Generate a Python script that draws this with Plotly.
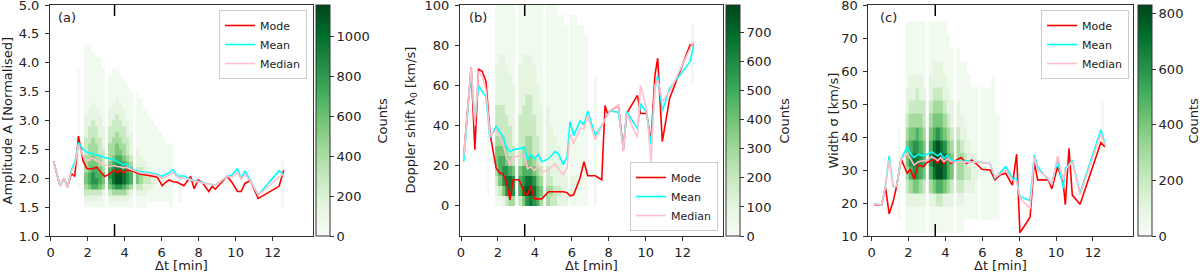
import plotly.graph_objects as go

# ---------------- line data ----------------
# Panel (a): amplitude
T_A = [0.15, 0.5, 0.72, 0.9, 1.12, 1.3, 1.5, 1.75, 1.95, 2.25, 2.48, 2.7, 2.92, 3.2, 3.42, 3.6,
       3.74, 3.92, 4.1, 4.35, 4.86, 5.3, 5.76, 6.03, 6.21, 6.4, 6.62, 6.84, 7.2, 7.56, 7.76, 7.97,
       8.19, 8.55, 8.73, 8.9, 9.53, 9.8, 10.1, 10.3, 10.5, 10.8, 11.22, 12.35, 12.6]
MODE_A = [2.30, 1.87, 2.0, 1.85, 2.08, 2.03, 2.73, 2.3, 2.17, 2.16, 2.19, 2.11, 2.03, 2.08, 2.14, 2.1,
          2.14, 2.09, 2.14, 2.13, 2.07, 2.05, 2.02, 1.87, 1.93, 1.97, 1.94, 1.93, 1.87, 2.03, 1.82, 1.97,
          1.93, 1.77, 1.86, 1.81, 2.03, 1.93, 1.77, 1.77, 1.91, 1.96, 1.65, 1.86, 2.14]
MEAN_A = [2.30, 1.87, 2.0, 1.85, 2.15, 2.28, 2.62, 2.5, 2.45, 2.43, 2.40, 2.39, 2.36, 2.33, 2.32, 2.28,
          2.27, 2.23, 2.25, 2.16, 2.11, 2.1, 2.07, 2.03, 2.07, 2.09, 2.15, 2.04, 2.04, 1.98, 1.96, 1.94,
          1.93, 1.9, 1.89, 1.88, 2.03, 2.05, 2.17, 1.99, 2.13, 1.96, 1.71, 2.13, 2.06]
MEDIAN_A = [2.30, 1.87, 2.0, 1.85, 2.12, 2.22, 2.58, 2.38, 2.3, 2.35, 2.3, 2.27, 2.25, 2.2, 2.22, 2.2,
            2.2, 2.18, 2.19, 2.15, 2.09, 2.08, 2.05, 2.0, 2.03, 2.05, 2.1, 2.02, 2.0, 1.98, 1.95, 1.93,
            1.92, 1.9, 1.89, 1.88, 2.03, 2.02, 2.1, 1.98, 2.07, 1.95, 1.71, 2.02, 2.07]

# Panel (b): Doppler shift
T_B = [0.15, 0.55, 0.75, 0.95, 1.15, 1.35, 1.57, 1.9, 2.08, 2.27, 2.47, 2.65, 2.83, 3.15, 3.45, 3.6,
       3.78, 3.97, 4.19, 4.37, 4.75, 5.09, 5.27, 5.54, 5.75, 5.9, 6.1, 6.45, 6.66, 6.86, 7.27, 7.62,
       7.8, 7.93, 8.07, 8.52, 8.79, 8.97, 9.55, 9.72, 10.05, 10.29, 10.5, 10.65, 10.9, 11.3, 12.4, 12.6]
MODE_B = [25, 69, 28, 68, 67, 62, 36, 19, 16.5, 16, 11.5, 3, 13, 13, 6, 5.5,
          10, 3.5, 3.5, 3.5, 7, 7, 7, 7, 6.5, 5, 5.5, 14, 22, 15, 15, 13,
          50, 46, 47, 50, 28, 46, 55, 46, 46, 32, 65, 73.5, 32, 53.6, 80, 80]
MEAN_B = [22, 68, 42, 60, 57, 54.5, 34, 39.5, 37, 34.5, 29, 27, 28, 28.7, 29, 23,
          25.5, 23.5, 25.5, 22, 23.5, 27, 26, 20.5, 24.5, 42, 35, 42.3, 40.3, 47.3, 35, 40,
          43.6, 45.5, 47.3, 46.6, 28.7, 47, 38.3, 51, 46.6, 30.7, 58, 65, 47.3, 58.5, 71.8, 80]
MEDIAN_B = [25, 69, 40, 67, 64.5, 58, 34.5, 38, 35, 31, 24, 20.5, 24, 25, 25, 18.5,
            19.5, 17.5, 20, 17, 18, 21, 18.5, 15.5, 19, 36, 31, 38.5, 38.5, 45, 33, 40,
            43, 45, 47, 50, 27, 46, 34, 60, 48, 22, 60, 63, 52, 57, 78, 82]

# Panel (c): width
T_C = [0.15, 0.55, 0.75, 0.95, 1.17, 1.35, 1.6, 1.93, 2.1, 2.3, 2.53, 2.8, 3.0, 3.25, 3.43, 3.58,
       3.74, 3.92, 4.12, 4.28, 4.6, 4.85, 5.15, 5.42, 5.7, 5.97, 6.42, 6.69, 6.96, 7.27, 7.63, 7.86,
       8.04, 8.59, 8.82, 9.0, 9.58, 9.77, 10.08, 10.39, 10.5, 10.7, 10.88, 11.3, 12.43, 12.65]
MODE_C = [19.5, 19.4, 24.8, 16.7, 20.5, 25, 33.3, 29, 30.2, 27.3, 31.5, 31, 32.3, 32.8, 33.3, 32,
          33.8, 31.8, 34, 32, 33, 33.8, 32, 33, 31.8, 30.2, 30, 27, 28.5, 29, 25.4, 34.8,
          11, 15.7, 32.5, 27, 27, 24.3, 31, 26, 19.5, 36.6, 22.4, 19.6, 38.3, 37]
MEAN_C = [19.7, 19.4, 25, 34.3, 25, 25, 33.3, 37, 35, 33.8, 34.8, 34.3, 34.8, 35.5, 34.8, 34.3,
          35, 33.5, 34.5, 33, 32.8, 32.5, 32.8, 32.5, 32.5, 32.3, 32, 27.5, 29, 31, 27.5, 27.4,
          22, 20.7, 34.6, 31, 27, 25.9, 33, 24.5, 30.5, 31.5, 33, 23, 42.2, 38]
MEDIAN_C = [19.7, 19.4, 25, 33, 25, 25, 33.3, 35, 33.5, 31.5, 32.5, 32.8, 33, 34, 33.5, 32.8,
            33.8, 32.5, 33.5, 32.5, 32.5, 32.5, 32.5, 32.5, 32.3, 32.3, 32, 27.8, 28.8, 30, 27, 26.5,
            21.5, 18.3, 34, 30, 27.5, 25.5, 34.3, 27, 30, 31.5, 32.5, 22.5, 41, 37.5]

# ---------------- 2-D histogram data ----------------
# Each column string lists colour levels 0-9 from the lowest y bin upwards.
LEVEL_FRAC = [0, 0.04, 0.12, 0.24, 0.36, 0.48, 0.6, 0.72, 0.84, 0.96]

ZMAX_A = 1160
Y_EDGES_A = [1.5, 1.6, 1.7, 1.8, 1.9, 2.0, 2.1, 2.2, 2.3, 2.4, 2.5, 2.6, 2.7, 2.8, 2.9, 3.0,
             3.1, 3.2, 3.3, 3.4, 3.5, 3.6, 3.7, 3.8, 3.9, 4.0, 4.1, 4.2, 4.3]
HIST_A = [
    ([1.45, 1.58], ["0001111111111111111111110000"]),
    ([1.8, 1.99, 2.18, 2.37, 2.56, 2.75, 2.95],
     ["1234554443332222111111111111",
      "1235665544433322211111111111",
      "1236776554443332221111111110",
      "1236766544433322211111111100",
      "1235665443332222111111111100",
      "1124554333222211111111110000"]),
    ([3.1, 3.29, 3.48, 3.67, 3.86, 4.05, 4.25, 4.45],
     ["1235676544433322211111100000",
      "1246887654443332221111110000",
      "1247998765544333222111110000",
      "1247998765443332221111100000",
      "1246887654433322211111000000",
      "1235776543332221111110000000",
      "1124665432222111111100000000"]),
    ([4.6, 4.8, 5.0, 5.2, 5.4, 5.6, 5.8, 6.0, 6.2, 6.4, 6.6],
     ["1123553222111111111100000000",
      "1123443221111111111000000000",
      "1122332211111111100000000000",
      "0112332111111111000000000000",
      "0112221111111110000000000000",
      "0111221111111100000000000000",
      "0111111111111000000000000000",
      "0111111111110000000000000000",
      "0111111111100000000000000000",
      "1111111111100000000000000000"]),
    ([6.9, 7.1], ["0111110000000000000000000000"]),
    ([12.45, 12.6], ["1111111100000000000000000000"]),
]

ZMAX_B = 795
Y_EDGES_B = [0, 5, 10, 15, 20, 25, 30, 35, 40, 45, 50, 55, 60, 65, 70, 75, 80, 85, 90, 95, 100]
HIST_B = [
    ([1.42, 1.55], ["01111111111111000000"]),
    ([1.85, 2.03, 2.21, 2.39, 2.57, 2.75, 2.95],
     ["12345543332222111111",
      "13566543332222211111",
      "25776543332222211111",
      "37875433322222111111",
      "48864333222221111111",
      "47753322222211111111"]),
    ([3.1, 3.29, 3.48, 3.67, 3.86, 4.05, 4.25, 4.45],
     ["36653333322222111111",
      "58764433332222211111",
      "79865443333222211111",
      "89865443333222211111",
      "78754333322222111111",
      "66543332222211111111",
      "45432222221111111111"]),
    ([4.6, 4.8, 5.0, 5.2, 5.4, 5.6, 5.8],
     ["44332222221111111111",
      "34322222111111111111",
      "33222221111111111111",
      "23222211111111111110",
      "22221111111111111110",
      "22211111111111111100"]),
    ([5.9, 6.1, 6.3, 6.5, 6.7, 6.9],
     ["12211111111111111110",
      "11211111111111111110",
      "11111111111111111100",
      "11111111111111111100",
      "11111111111111111000"]),
    ([7.2, 7.35], ["11111111111110000000"]),
    ([12.45, 12.6], ["00000000000011111100"]),
]

ZMAX_C = 830
Y_EDGES_C = [11, 15, 19, 23, 27, 31, 35, 39, 43, 47, 51, 55, 59, 63, 67, 71, 75]
HIST_C = [
    ([1.45, 1.57], ["0111111100000000"]),
    ([1.85, 2.03, 2.21, 2.39, 2.57, 2.75, 2.95],
     ["1123455432211111",
      "1124676543221111",
      "1125787543221111",
      "1125787643321111",
      "1124676543221111",
      "1123565433211111"]),
    ([3.1, 3.29, 3.48, 3.67, 3.86, 4.05, 4.25, 4.45],
     ["1124676543221111",
      "1125898654322111",
      "1136999754322111",
      "1136998654322111",
      "1125887543221111",
      "1124665432211110",
      "1123554322111100"]),
    ([4.6, 4.8, 5.0, 5.2, 5.4, 5.6, 5.8],
     ["1123444322111100",
      "1123443221111000",
      "0112332211111000",
      "0112322111110000",
      "0112221111100000",
      "0111221111100000"]),
    ([5.9, 6.1, 6.3, 6.5, 6.7, 6.95],
     ["0111111111100000",
      "0111111111100000",
      "0111111111100000",
      "0111111111110000",
      "0111111110000000"]),
    ([12.45, 12.6], ["0000001111000000"]),
]

MARK_T = 3.45  # vertical marker position (min)

GREENS = [[0, '#f7fcf5'], [0.125, '#e5f5e0'], [0.25, '#c7e9c0'], [0.375, '#a1d99b'],
          [0.5, '#74c476'], [0.625, '#41ab5d'], [0.75, '#238b45'], [0.875, '#006d2c'],
          [1, '#00441b']]

FONT = 'DejaVu Sans'
FS = 13
TXT = '#222'
W, H = 1200, 276
XDOMS = [[50 / W, 313.3 / W], [460 / W, 722.7 / W], [868.3 / W, 1133 / W]]
YDOM = [1 - 236 / H, 1 - 5 / H]
XRANGES = [[-0.04, 14.2], [-0.054, 14.17], [-0.18, 14.17]]

fig = go.Figure()


def add_hist(blocks, y_edges, zmax, ax, cax):
    nrows = len(y_edges) - 1
    for x_edges, cols in blocks:
        z = []
        for r in range(nrows):
            row = []
            for s in cols:
                s = s.ljust(nrows, '0')[:nrows]
                lv = int(s[r])
                row.append(None if lv == 0 else LEVEL_FRAC[lv] * zmax)
            z.append(row)
        fig.add_trace(go.Heatmap(x=x_edges, y=y_edges, z=z, coloraxis=cax,
                                 xaxis='x' + ax, yaxis='y' + ax, hoverinfo='skip',
                                 showlegend=False))


def add_lines(t, mode, mean, median, ax, leg):
    for name, vals, col in [('Mode', mode, '#ff0000'), ('Mean', mean, '#00ffff'),
                            ('Median', median, '#ffc0cb')]:
        fig.add_trace(go.Scatter(x=t, y=vals, mode='lines', name=name,
                                 line=dict(color=col, width=1.6),
                                 xaxis='x' + ax, yaxis='y' + ax, legend=leg))


add_hist(HIST_A, Y_EDGES_A, ZMAX_A, '', 'coloraxis')
add_hist(HIST_B, Y_EDGES_B, ZMAX_B, '2', 'coloraxis2')
add_hist(HIST_C, Y_EDGES_C, ZMAX_C, '3', 'coloraxis3')
add_lines(T_A, MODE_A, MEAN_A, MEDIAN_A, '', 'legend')
add_lines(T_B, MODE_B, MEAN_B, MEDIAN_B, '2', 'legend2')
add_lines(T_C, MODE_C, MEAN_C, MEDIAN_C, '3', 'legend3')

axis_common = dict(showline=True, linecolor='#333', linewidth=1, mirror=True,
                   ticks='outside', ticklen=4, tickcolor='#333', showgrid=False,
                   zeroline=False, tickfont=dict(family=FONT, size=FS, color=TXT),
                   ticklabeloverflow='allow', automargin=False)

yinfo = [
    dict(range=[1, 5], tickvals=[1, 1.5, 2, 2.5, 3, 3.5, 4, 4.5, 5], tickformat='.1f'),
    dict(range=[-15, 100], tickvals=[0, 20, 40, 60, 80, 100]),
    dict(range=[10, 80], tickvals=[10, 20, 30, 40, 50, 60, 70, 80]),
]
suffix = ['', '2', '3']
layout = dict(width=W, height=H, margin=dict(l=0, r=0, t=0, b=0),
              paper_bgcolor='white', plot_bgcolor='white',
              font=dict(family=FONT, size=FS, color=TXT))
for i in range(3):
    s = suffix[i]
    layout['xaxis' + s] = dict(axis_common, domain=XDOMS[i], range=XRANGES[i],
                               tickvals=[0, 2, 4, 6, 8, 10, 12], anchor='y' + s)
    layout['yaxis' + s] = dict(axis_common, domain=YDOM, anchor='x' + s,
                               ticklabelstandoff=3, **yinfo[i])

cb_common = dict(thickness=14, thicknessmode='pixels', len=(YDOM[1] - YDOM[0]),
                 lenmode='fraction', y=(YDOM[0] + YDOM[1]) / 2, yanchor='middle',
                 xanchor='left', xpad=0, ypad=0, outlinewidth=1, outlinecolor='#333',
                 ticks='outside', ticklen=4, tickcolor='#333',
                 tickfont=dict(family=FONT, size=FS, color=TXT))
layout['coloraxis'] = dict(colorscale=GREENS, cmin=0, cmax=ZMAX_A,
                           colorbar=dict(cb_common, x=316 / W, dtick=200))
layout['coloraxis2'] = dict(colorscale=GREENS, cmin=0, cmax=ZMAX_B,
                            colorbar=dict(cb_common, x=726 / W, dtick=100))
layout['coloraxis3'] = dict(colorscale=GREENS, cmin=0, cmax=ZMAX_C,
                            colorbar=dict(cb_common, x=1138 / W, dtick=200))

leg_common = dict(bgcolor='rgba(255,255,255,0.85)', bordercolor='#cccccc', borderwidth=1,
                  font=dict(family=FONT, size=11, color=TXT), itemwidth=30,
                  tracegroupgap=0)
layout['legend'] = dict(leg_common, x=307 / W, y=1 - 10 / H, xanchor='right', yanchor='top')
layout['legend2'] = dict(leg_common, x=718 / W, y=1 - 231 / H, xanchor='right', yanchor='bottom')
layout['legend3'] = dict(leg_common, x=1129 / W, y=1 - 10 / H, xanchor='right', yanchor='top')

fig.update_layout(**layout)

# panel labels and axis titles
ymid = (YDOM[0] + YDOM[1]) / 2
for lbl, xl in [('(a)', 56), ('(b)', 467), ('(c)', 878)]:
    fig.add_annotation(text=lbl, xref='paper', yref='paper', x=xl / W, y=1 - 18 / H,
                       xanchor='left', yanchor='middle', showarrow=False,
                       font=dict(family=FONT, size=FS, color=TXT))
for ttl, xc in [('Amplitude A [Normalised]', 7), ('Doppler shift λ<sub>0</sub> [km/s]', 411),
                ('Width σ [km/s]', 833)]:
    fig.add_annotation(text=ttl, xref='paper', yref='paper', x=xc / W, y=ymid,
                       xanchor='center', yanchor='middle', textangle=-90, showarrow=False,
                       font=dict(family=FONT, size=FS, color=TXT))
for xd in XDOMS:
    fig.add_annotation(text='Δt [min]', xref='paper', yref='paper', x=(xd[0] + xd[1]) / 2,
                       y=1 - 265 / H, xanchor='center', yanchor='middle', showarrow=False,
                       font=dict(family=FONT, size=FS, color=TXT))
for xc in [382, 784, 1193]:
    fig.add_annotation(text='Counts', xref='paper', yref='paper', x=xc / W, y=ymid,
                       xanchor='center', yanchor='middle', textangle=-90, showarrow=False,
                       font=dict(family=FONT, size=FS, color=TXT))

# short vertical markers at top and bottom of each panel
for s in suffix:
    for y0, y1 in [(0, 0.052), (0.952, 1)]:
        fig.add_shape(type='line', xref='x' + s, yref=('y' + s + ' domain'),
                      x0=MARK_T, x1=MARK_T, y0=y0, y1=y1,
                      line=dict(color='black', width=1.5))

fig.write_html('out.html', post_script="document.body.style.margin='0';",
               config={'displayModeBar': False})
